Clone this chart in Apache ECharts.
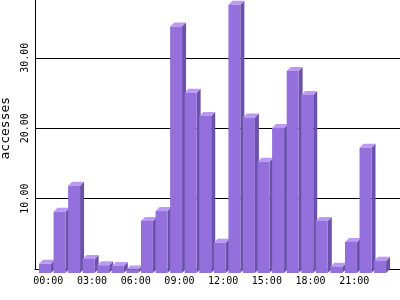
<!DOCTYPE html>
<html>
<head>
<meta charset="utf-8">
<script src="https://cdn.jsdelivr.net/npm/echarts@6/dist/echarts.min.js"></script>
<style>html,body{margin:0;padding:0;background:#fff}#c{width:400px;height:300px}</style>
</head>
<body>
<div id="c"></div>
<script>
var hours = ["00:00","01:00","02:00","03:00","04:00","05:00","06:00","07:00","08:00","09:00","10:00","11:00",
             "12:00","13:00","14:00","15:00","16:00","17:00","18:00","19:00","20:00","21:00","22:00","23:00"];
var accesses = [1.3, 8.7, 12.4, 2.0, 1.1, 1.0, 0.5, 7.4, 8.8, 35.0, 25.6, 22.3,
                4.3, 38.1, 22.1, 15.8, 20.6, 28.7, 25.3, 7.4, 0.9, 4.4, 17.8, 1.75];
var yTicks = [0, 10, 20, 30, 40];
var yName = "accesses";

var chart = echarts.init(document.getElementById('c'), null, {renderer: 'canvas'});
var mono = "'DejaVu Sans Mono', monospace";
var DX = 4, DY = 4;
var option = {
  animation: false,
  backgroundColor: '#ffffff',
  grid: [
    {left: 35, right: 0, top: -12.6, bottom: 31, containLabel: false, outerBoundsMode: 'none'},
    {left: 41, width: 349.7, top: -12.6, bottom: 31, containLabel: false, outerBoundsMode: 'none'}
  ],
  xAxis: [
    {gridIndex: 0, type: 'category', data: hours, boundaryGap: true,
     axisLine: {show: true, lineStyle: {color: '#000', width: 1}},
     axisTick: {show: false}, axisLabel: {show: false}, splitLine: {show: false}},
    {gridIndex: 1, type: 'category', data: hours, boundaryGap: true,
     axisLine: {show: false}, axisTick: {show: false},
     axisLabel: {interval: 2, color: '#000', fontFamily: mono, fontSize: 10, margin: 7},
     splitLine: {show: false}}
  ],
  yAxis: [
    {gridIndex: 0, type: 'value', min: yTicks[0], max: yTicks[yTicks.length - 1], interval: 10,
     name: yName, nameLocation: 'middle', nameRotate: 90, nameGap: 14,
     nameTextStyle: {color: '#000', fontFamily: mono, fontSize: 13},
     axisLine: {show: true, lineStyle: {color: '#000', width: 1}},
     axisTick: {show: false},
     axisLabel: {rotate: 90, color: '#000', fontFamily: mono, fontSize: 10, margin: 5,
                 showMinLabel: false, showMaxLabel: false,
                 formatter: function (v) { return v.toFixed(2); }},
     splitLine: {show: true, lineStyle: {color: '#000', width: 1}}},
    {gridIndex: 1, type: 'value', min: yTicks[0], max: yTicks[yTicks.length - 1], interval: 10,
     show: false, splitLine: {show: false}}
  ],
  series: [{
    type: 'custom',
    xAxisIndex: 1, yAxisIndex: 1,
    clip: false,
    data: accesses.map(function (v, i) { return [i, v]; }),
    encode: {x: 0, y: 1},
    renderItem: function (params, api) {
      var i = api.value(0), v = api.value(1);
      var top = api.coord([i, v]);
      var base = api.coord([i, 0]);
      var band = api.size([1, 0])[0];
      var w = band * 0.82;
      var x0 = top[0] - 9.3, x1 = x0 + w;
      var yt = top[1] + DY, yb = base[1] + DY;
      return {
        type: 'group',
        children: [
          {type: 'polygon', shape: {points: [[x1, yt], [x1 + DX, yt - DY], [x1 + DX, yb - DY], [x1, yb]]},
           style: {fill: '#6a52a8'}},
          {type: 'polygon', shape: {points: [[x0, yt], [x0 + DX, yt - DY], [x1 + DX, yt - DY], [x1, yt]]},
           style: {fill: '#bb99f5'}},
          {type: 'rect', shape: {x: x0, y: yt, width: w, height: yb - yt},
           style: {fill: '#9370db'}}
        ]
      };
    }
  }]
};
chart.setOption(option);
</script>
</body>
</html>
